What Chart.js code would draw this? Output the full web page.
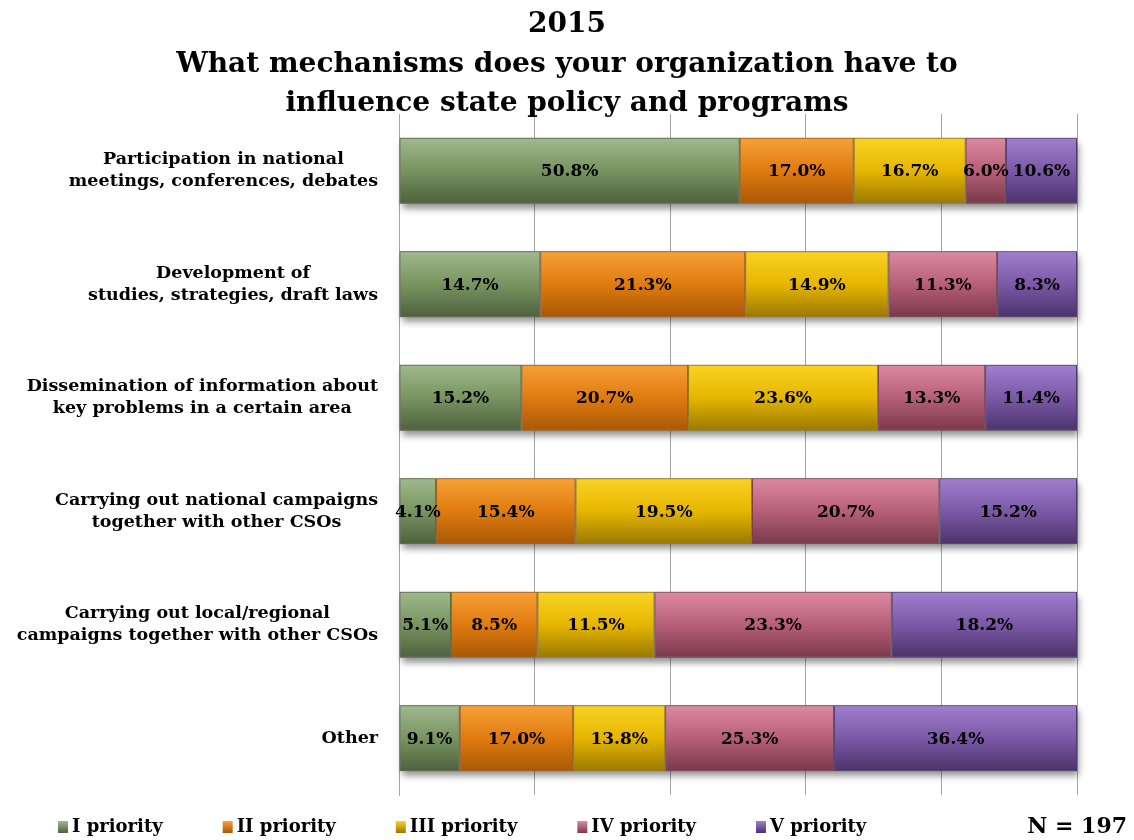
<!DOCTYPE html>
<html>
<head>
<meta charset="utf-8">
<script src="https://cdn.jsdelivr.net/npm/chart.js@4.4.1/dist/chart.umd.min.js"></script>
<style>
html, body { margin: 0; padding: 0; background: #fff; }
#wrap { width: 1134px; height: 840px; }
</style>
</head>
<body>
<div id="wrap"><canvas id="prioChart"></canvas></div>
<script>
var categories = [
	['Participation in national', 'meetings, conferences, debates'],
	['Development of', 'studies, strategies, draft laws'],
	['Dissemination of information about', 'key problems in a certain area'],
	['Carrying out national campaigns', 'together with other CSOs'],
	['Carrying out local/regional', 'campaigns together with other CSOs'],
	['Other']
];
var seriesNames = ['I priority', 'II priority', 'III priority', 'IV priority', 'V priority'];
var priority1 = [50.8, 14.7, 15.2, 4.1, 5.1, 9.1];
var priority2 = [17.0, 21.3, 20.7, 15.4, 8.5, 17.0];
var priority3 = [16.7, 14.9, 23.6, 19.5, 11.5, 13.8];
var priority4 = [6.0, 11.3, 13.3, 20.7, 23.3, 25.3];
var priority5 = [10.6, 8.3, 11.4, 15.2, 18.2, 36.4];
var xTicks = [0, 20, 40, 60, 80, 100];
var titleLines = ['2015', 'What mechanisms does your organization have to', 'influence state policy and programs'];
var sampleNote = 'N = 197';

// top, middle, bottom, border
var palette = [
	['#a0b98e', '#789460', '#4e603e', '#55673f'],
	['#f7a136', '#df7b10', '#a95805', '#a85a10'],
	['#f9d324', '#e6b600', '#9a7800', '#9a7a10'],
	['#de89a3', '#b65f79', '#793849', '#7a3c4e'],
	['#a07fcf', '#7b59a6', '#4a336b', '#4c386c']
];

var series = [priority1, priority2, priority3, priority4, priority5];
var barPct = 0.58;
var serif = "'DejaVu Serif', serif";

// each bar is drawn as a share of its row total (100% stacked)
var rowTotals = categories.map(function(c, i) {
	var t = 0;
	series.forEach(function(s) { t += s[i]; });
	return t;
});

function barFill(idx) {
	return function(context) {
		var chart = context.chart;
		var area = chart.chartArea;
		if (!area || context.type !== 'data') return palette[idx][1];
		var y = chart.scales.y.getPixelForValue(context.dataIndex);
		var h = area.height / categories.length * barPct;
		var g = chart.ctx.createLinearGradient(0, y - h / 2, 0, y + h / 2);
		g.addColorStop(0, palette[idx][0]);
		g.addColorStop(0.5, palette[idx][1]);
		g.addColorStop(1, palette[idx][2]);
		return g;
	};
}

var datasets = series.map(function(s, k) {
	return {
		label: seriesNames[k],
		data: s.map(function(v, i) { return v / rowTotals[i] * 100; }),
		raw: s,
		backgroundColor: barFill(k),
		borderColor: palette[k][3],
		borderWidth: 1,
		borderSkipped: false,
		barPercentage: barPct,
		categoryPercentage: 1
	};
});

var decorPlugin = {
	id: 'decor',
	beforeDatasetsDraw: function(chart) {
		// soft shadow under each stacked row
		var c = chart.ctx;
		var first = chart.getDatasetMeta(0).data;
		var last = chart.getDatasetMeta(chart.data.datasets.length - 1).data;
		c.save();
		c.shadowColor = 'rgba(0,0,0,0.45)';
		c.shadowBlur = 7;
		c.shadowOffsetY = 5;
		c.shadowOffsetX = 2;
		c.fillStyle = '#888';
		first.forEach(function(el, i) {
			var x0 = el.base, x1 = last[i].x;
			c.fillRect(x0, el.y - el.height / 2, x1 - x0, el.height);
		});
		c.restore();
	},
	afterDatasetsDraw: function(chart) {
		var c = chart.ctx;
		c.save();
		// values inside bars
		c.font = 'bold 17px ' + serif;
		c.fillStyle = '#000';
		c.textAlign = 'center';
		c.textBaseline = 'middle';
		chart.data.datasets.forEach(function(ds, k) {
			var meta = chart.getDatasetMeta(k);
			meta.data.forEach(function(el, i) {
				c.fillText(ds.raw[i].toFixed(1) + '%', (el.x + el.base) / 2, el.y + 1);
			});
		});
		// category labels, lines centred inside a right-aligned block
		var ys = chart.scales.y;
		c.font = 'bold 17.5px ' + serif;
		categories.forEach(function(lines, i) {
			var w = 0;
			lines.forEach(function(l) { w = Math.max(w, c.measureText(l).width); });
			var cx = ys.right - 21 - w / 2;
			var cy = ys.getPixelForValue(i);
			lines.forEach(function(l, j) {
				c.fillText(l, cx, cy + (j - (lines.length - 1) / 2) * 22);
			});
		});
		c.restore();
	},
	afterDraw: function(chart) {
		var c = chart.ctx;
		c.save();
		c.textBaseline = 'middle';
		c.textAlign = 'center';
		c.fillStyle = '#000';
		c.font = 'bold 28px ' + serif;
		titleLines.forEach(function(t, i) {
			c.fillText(t, 567, 25 + i * 39.5);
		});
		// legend
		c.textAlign = 'left';
		c.font = 'bold 18px ' + serif;
		var x = 58, y = 827;
		chart.data.datasets.forEach(function(ds, k) {
			var g = c.createLinearGradient(0, y - 6, 0, y + 6);
			g.addColorStop(0, palette[k][0]);
			g.addColorStop(1, palette[k][2]);
			c.fillStyle = g;
			c.fillRect(x, y - 6, 10, 12);
			c.fillStyle = '#000';
			c.fillText(ds.label, x + 14, y);
			x += 14 + c.measureText(ds.label).width + 60;
		});
		c.textAlign = 'right';
		c.font = 'bold 22px ' + serif;
		c.fillText(sampleNote, 1127, y);
		c.restore();
	}
};

var ctx = document.getElementById('prioChart');
var prioChart = new Chart(ctx, {
	type: 'bar',
	data: {
		labels: categories,
		datasets: datasets
	},
	options: {
		indexAxis: 'y',
		responsive: true,
		maintainAspectRatio: false,
		animation: false,
		layout: {
			padding: { top: 114, right: 57, bottom: 45, left: 0 }
		},
		plugins: {
			legend: { display: false },
			tooltip: { enabled: false }
		},
		scales: {
			x: {
				stacked: true,
				min: xTicks[0],
				max: xTicks[xTicks.length - 1],
				afterBuildTicks: function(scale) {
					scale.ticks = xTicks.map(function(v) { return { value: v }; });
				},
				ticks: { display: false },
				grid: { color: '#a6a6a6', drawTicks: false, lineWidth: 1 },
				border: { display: false },
				afterFit: function(scale) { scale.height = 0; }
			},
			y: {
				stacked: true,
				ticks: { display: false },
				grid: { display: false },
				border: { display: true, color: '#a6a6a6' },
				afterFit: function(scale) { scale.width = 399; }
			}
		}
	},
	plugins: [decorPlugin]
});
</script>
</body>
</html>
